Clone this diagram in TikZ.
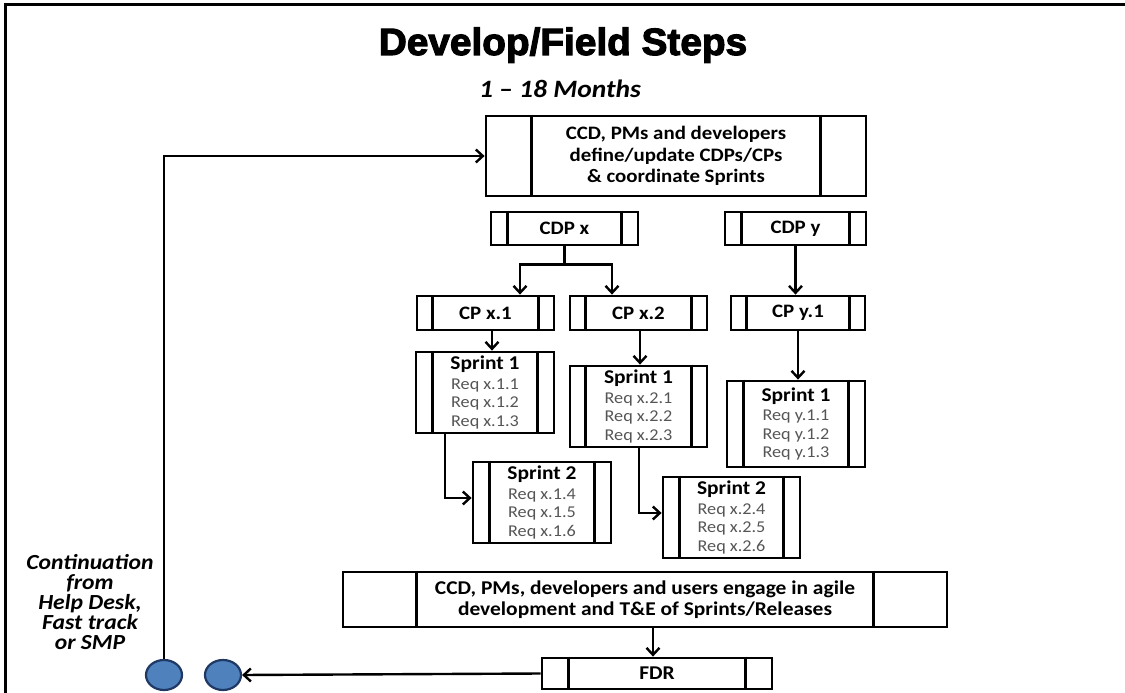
\documentclass[tikz,border=0pt]{standalone}
\usepackage{fontspec}
\setmainfont{Carlito}[FakeStretch=1.1]
\newfontfamily\titlefont{Liberation Sans}[FakeStretch=1.02,FakeBold=3]
\usetikzlibrary{arrows.meta,shapes.geometric}

\definecolor{reqgray}{HTML}{555555}
\definecolor{dotfill}{HTML}{4F81BD}
\definecolor{dotline}{HTML}{1F3864}

\tikzset{
  procbox/.style={draw, rectangle, line width=2.8pt, inner sep=0pt, align=center,
    font=\fontsize{19}{21.5}\selectfont\bfseries},
  sprintbox/.style={font=\fontsize{16.5}{18.5}\selectfont},
  bigtext/.style={font=\fontsize{19.5}{21.5}\selectfont\bfseries},
  divider/.style={line width=2.8pt},
  link/.style={line width=2.4pt},
  arr/.style={line width=2.4pt, -{Straight Barb[length=7pt,width=13pt,line width=2.4pt]}},
  dot/.style={ellipse, draw=dotline, fill=dotfill, line width=2.2pt,
    minimum width=36, minimum height=30, inner sep=0pt},
}

% process box with two inner side bars:
% [options]{name}{cx}{cy}{width}{height}{bar inset}{text}
\newcommand\procnode[8][]{%
  \node[procbox, #1, minimum width=#5, minimum height=#6] (#2) at (#3,#4) {#8};
  \draw[divider] ([xshift=#7]#2.north west) -- ([xshift=#7]#2.south west)
                 ([xshift=-#7]#2.north east) -- ([xshift=-#7]#2.south east);
}
\newcommand\req[1]{\textcolor{reqgray}{\mdseries #1}}
\newcommand\sprinthead[1]{{\fontsize{19.5}{19}\selectfont\bfseries #1}}

\begin{document}
\begin{tikzpicture}[x=1pt,y=-1pt]
\useasboundingbox (0,0) rectangle (1125,693);

% outer frame (top and left edges)
\draw[line width=3pt] (5,693) -- (5,5) -- (1125,5);

% headings
\node[anchor=base, inner sep=0pt, font=\titlefont\bfseries\fontsize{38}{42}\selectfont]
  (title) at (563,55) {Develop/Field Steps};
\node[anchor=base, inner sep=0pt, font=\fontsize{25}{28}\selectfont\bfseries\itshape]
  (subtitle) at (560,97) {1 -- 18 Months};

% process boxes
\procnode{top}{676}{156}{380}{80}{47}{CCD, PMs and developers\\define/update CDPs/CPs\\\& coordinate Sprints}
\procnode{cdpx}{564.5}{228.5}{147}{33}{18}{CDP x}
\procnode{cdpy}{795.5}{228.5}{141}{33}{18}{CDP y}
\procnode{cpx1}{485.5}{313}{137}{34}{17}{CP x.1}
\procnode{cpx2}{638.5}{313}{137}{34}{17}{CP x.2}
\procnode{cpy1}{798}{313}{134}{34}{17}{CP y.1}
\procnode[sprintbox]{s1x1}{485}{392.5}{138}{81}{18}{\sprinthead{Sprint 1}\\[1pt]\req{Req x.1.1}\\\req{Req x.1.2}\\\req{Req x.1.3}}
\procnode[sprintbox]{s1x2}{638.5}{406.5}{137}{81}{17}{\sprinthead{Sprint 1}\\[1pt]\req{Req x.2.1}\\\req{Req x.2.2}\\\req{Req x.2.3}}
\procnode[sprintbox]{s1y1}{796}{424}{138}{86}{18}{\sprinthead{Sprint 1}\\[1pt]\req{Req y.1.1}\\\req{Req y.1.2}\\\req{Req y.1.3}}
\procnode[sprintbox]{s2x1}{542}{502.5}{138}{81}{18}{\sprinthead{Sprint 2}\\[1pt]\req{Req x.1.4}\\\req{Req x.1.5}\\\req{Req x.1.6}}
\procnode[sprintbox]{s2x2}{731.5}{517.5}{137}{81}{18}{\sprinthead{Sprint 2}\\[1pt]\req{Req x.2.4}\\\req{Req x.2.5}\\\req{Req x.2.6}}
\procnode[bigtext]{bot}{645}{599.5}{604}{55}{75}{CCD, PMs, developers and users engage in agile\\development and T\&E of Sprints/Releases}
\procnode[bigtext]{fdr}{657}{673.5}{230}{31}{28}{FDR}

% connector circles
\node[dot] (c1) at (164,675) {};
\node[dot] (c2) at (223,675) {};

% side note
\node[align=center, inner sep=0pt, font=\fontsize{21.5}{20}\selectfont\bfseries\itshape]
  (note) at (90,602) {Continuation\\from\\Help Desk,\\Fast track\\or SMP};

% connectors
\draw[arr] (c1.north) |- (top.west);
\draw[link] (cdpx.south) -- ++(0,18) coordinate (fork);
\draw[arr] (fork) -| ([xshift=34.5]cpx1.north);
\draw[arr] (fork) -| ([xshift=-26.5]cpx2.north);
\draw[arr] (cdpy.south) -- (cdpy.south |- cpy1.north);
\draw[arr] ([xshift=6.5]cpx1.south) -- ([xshift=6.5]cpx1.south |- s1x1.north);
\draw[arr] ([xshift=1.5]cpx2.south) -- ([xshift=1.5]cpx2.south |- s1x2.north);
\draw[arr] (cpy1.south) -- (cpy1.south |- s1y1.north);
\draw[arr] ([xshift=-40]s1x1.south) |- ([yshift=4.5]s2x1.west);
\draw[arr] ([xshift=0.5]s1x2.south) |- ([yshift=4.5]s2x2.west);
\draw[arr] ([xshift=8]bot.south) -- ([xshift=8]bot.south |- fdr.north);
\draw[arr] (fdr.west) -- (c2.east);
\end{tikzpicture}
\end{document}
